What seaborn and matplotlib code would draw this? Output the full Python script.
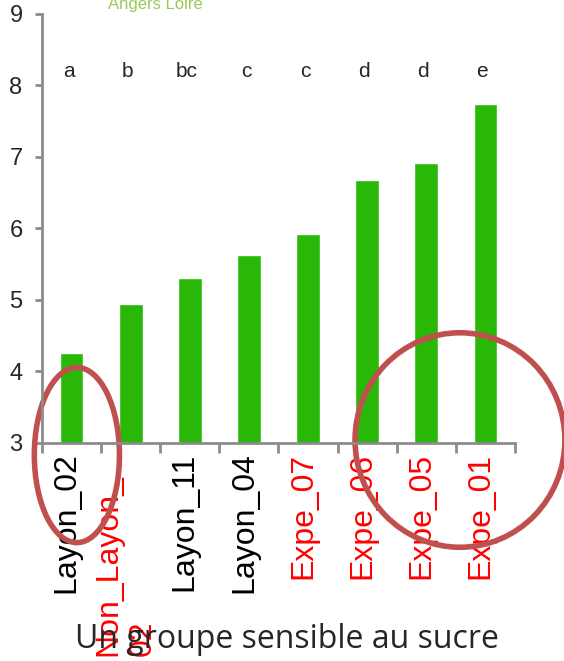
import numpy as np
import pandas as pd
import matplotlib
matplotlib.use("Agg")
import matplotlib.pyplot as plt
import matplotlib.transforms as mtransforms
from matplotlib.patches import Ellipse
import seaborn as sns

# data
genotypes = ["Layon_02", "Non_Layon_\n02", "Layon_11", "Layon_04",
             "Expe_07", "Expe_06", "Expe_05", "Expe_01"]
values = [4.26, 4.94, 5.31, 5.63, 5.92, 6.68, 6.92, 7.74]
groups = ["a", "b", "bc", "c", "c", "d", "d", "e"]
label_colors = ["black", "red", "black", "black", "red", "red", "red", "red"]

df = pd.DataFrame({"genotype": genotypes, "value": values})

sns.set_style("white")
plt.rcParams["font.family"] = ["Liberation Sans", "DejaVu Sans"]

fig = plt.figure(figsize=(5.64, 6.61), dpi=100)
ax = fig.add_axes([0.0745, 0.330, 0.8385, 0.649])

sns.barplot(data=df, x="genotype", y="value", color="#2ab808",
            saturation=1, width=0.4, ax=ax)

ax.set_ylim(3, 9)
ax.set_xlim(-0.5, 7.5)
ax.set_yticks(range(3, 10))
ax.set_xlabel("")
ax.set_ylabel("")

# spines
for s in ["top", "right"]:
    ax.spines[s].set_visible(False)
for s in ["left", "bottom"]:
    ax.spines[s].set_color("#8c8c8c")
    ax.spines[s].set_linewidth(2)

ax.tick_params(axis="y", length=5, width=2, color="#8c8c8c",
               labelsize=17, left=True, pad=9)
ax.set_xticks(np.arange(-0.5, 8, 1), minor=True)
ax.tick_params(axis="x", which="minor", length=7, width=2,
               color="#8c8c8c", bottom=True)
ax.tick_params(axis="x", which="major", length=0, pad=7)
ax.set_xticklabels(genotypes, rotation=90, fontsize=23,
                   va="top", ha="center")
shift = mtransforms.ScaledTranslation(-5 / 100, 0, fig.dpi_scale_trans)
for lab, c in zip(ax.get_xticklabels(), label_colors):
    lab.set_color(c)
    lab.set_transform(lab.get_transform() + shift)
# the wrapped label sits lower, lines aligned at their start
lab2 = ax.get_xticklabels()[1]
lab2.set_multialignment("left")
lab2.set_transform(lab2.get_transform()
                   + mtransforms.ScaledTranslation(0, -22 / 100, fig.dpi_scale_trans))

# significance letters
for i, g in enumerate(groups):
    ax.text(i - 0.05, 8.2, g, ha="center", va="center", fontsize=15)

# highlight ellipses
ax.add_patch(Ellipse((0.09, 2.83), 1.44, 2.45, fill=False,
                     edgecolor="#c0504d", linewidth=4, clip_on=False))
ax.add_patch(Ellipse((6.57, 3.04), 3.55, 3.0, fill=False,
                     edgecolor="#c0504d", linewidth=4, clip_on=False))

fig.text(0.275, 0.993, "Angers Loire", color="#9bc85a", fontsize=12,
         ha="center", va="center")
fig.text(0.509, 0.0197, "Un groupe sensible au sucre", fontsize=23,
         ha="center", va="baseline", family=["Open Sans", "DejaVu Sans"])

fig.savefig("out.png", dpi=100)
